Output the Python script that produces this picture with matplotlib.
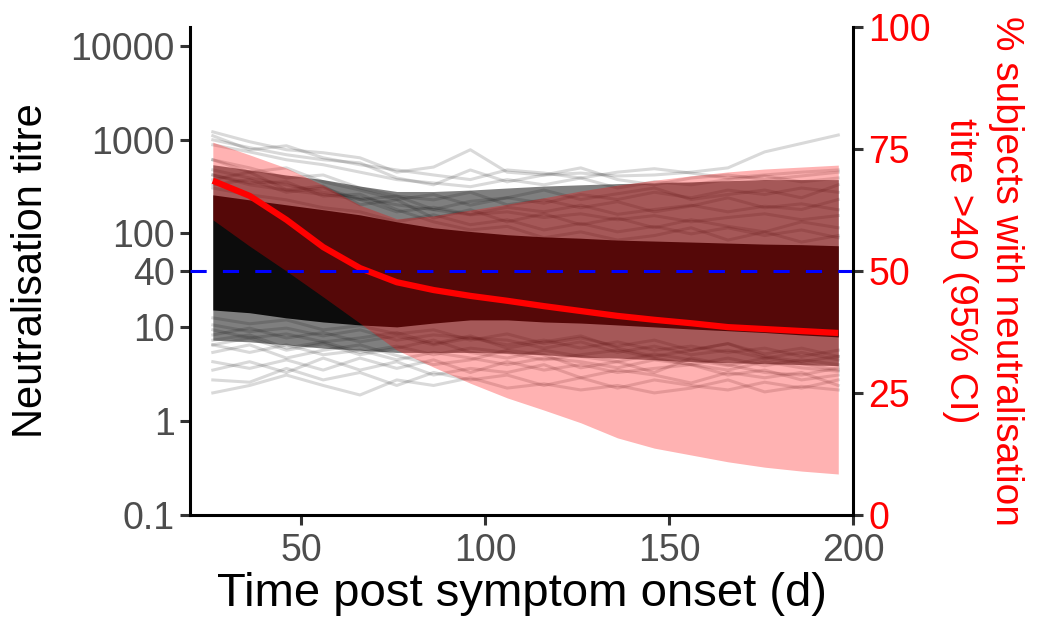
import numpy as np
import matplotlib
matplotlib.use("Agg")
import matplotlib.pyplot as plt

plt.rcParams["font.family"] = ["Liberation Sans", "DejaVu Sans"]

# sampling days (post symptom onset)
days = [26, 36, 46, 56, 66, 76, 86, 96, 106, 116, 126, 136, 146, 156, 166, 176, 186, 196]

# % subjects with titre > 40 (right axis), mean and 95% CI
pct_mean = [68.5, 65.4, 60.5, 54.9, 50.6, 47.7, 46.1, 44.9, 43.9, 42.8, 41.8, 40.8, 40.0, 39.3, 38.5, 38.1, 37.7, 37.3]
pct_upper = [76.4, 73.8, 71.1, 67.6, 63.5, 60.7, 61.3, 62.5, 63.7, 65.0, 66.4, 67.6, 68.6, 69.5, 70.3, 70.9, 71.3, 71.7]
pct_lower = [60.5, 55.1, 50.0, 44.7, 39.3, 33.8, 30.3, 27.0, 24.0, 21.5, 18.9, 15.8, 13.7, 12.3, 10.9, 9.8, 9.0, 8.4]

# envelopes of the simulated titre trajectories (middle / core)
mod_hi = [540, 475, 420, 375, 320, 280, 280, 290, 305, 320, 330, 340, 345, 355, 365, 375, 375, 375]
dense_hi = [258, 228, 202, 179, 158, 133, 115, 105, 97, 92, 89, 85, 83, 81, 79, 77, 76, 74]
dense_lo = [15.3, 14.3, 12.6, 11.4, 10.6, 10.1, 11.1, 12, 12, 11.4, 11.1, 10.6, 10.1, 9.6, 9.2, 8.8, 8.3, 7.9]
mod_lo = [7.3, 7.0, 6.5, 6.0, 5.7, 5.4, 5.4, 5.4, 5.3, 5.1, 4.8, 4.7, 4.5, 4.3, 4.2, 4.1, 4.0, 3.9]

# individual trajectories visible outside the dense mass
traj_high = [
    [1210, 950, 780, 725, 640, 450, 510, 780, 450, 420, 440, 410, 420, 450, 500, 740, 910, 1120],
    [1100, 780, 860, 640, 540, 475, 420, 375, 475, 440, 390, 450, 490, 440, 390, 420, 450, 475],
    [995, 820, 690, 610, 565, 390, 330, 475, 355, 420, 500, 375, 330, 390, 420, 375, 410, 450],
    [880, 740, 610, 540, 450, 375, 345, 315, 375, 330, 390, 305, 355, 330, 375, 410, 355, 390],
    [610, 450, 500, 355, 290, 230, 260, 200, 240, 210, 260, 230, 275, 240, 290, 260, 305, 275],
    [420, 330, 290, 260, 230, 170, 190, 160, 190, 170, 200, 160, 180, 200, 170, 195, 180, 230],
    [330, 375, 275, 305, 230, 250, 180, 220, 240, 290, 230, 265, 305, 230, 260, 290, 240, 330],
    [476, 390, 330, 275, 240, 202, 179, 158, 170, 148, 162, 140, 155, 133, 148, 162, 140, 155],
    [373, 450, 292, 320, 202, 228, 146, 179, 133, 162, 124, 146, 115, 140, 119, 104, 133, 115],
    [305, 258, 228, 188, 170, 133, 158, 124, 140, 109, 128, 104, 119, 99, 115, 95, 109, 90],
    [609, 500, 390, 420, 305, 250, 228, 275, 202, 228, 188, 218, 170, 196, 240, 188, 207, 179],
    [420, 345, 355, 250, 262, 179, 133, 109, 119, 90, 104, 85, 95, 115, 85, 104, 81, 95],
]
traj_low = [
    [6.5, 5.4, 6.5, 5.1, 5.7, 4.5, 5.4, 4.7, 4.0, 4.7, 4.3, 3.7, 4.5, 4.0, 3.5, 4.3, 3.7, 3.4],
    [7.3, 8.3, 6.0, 7.0, 5.4, 6.3, 5.1, 6.0, 5.4, 4.5, 5.1, 5.7, 4.7, 4.0, 4.7, 3.9, 4.5, 4.0],
    [5.4, 6.5, 4.7, 5.7, 6.5, 5.0, 4.0, 4.5, 5.7, 5.1, 3.7, 4.3, 3.3, 4.7, 4.0, 3.3, 3.1, 3.7],
    [2.0, 2.4, 3.1, 2.4, 1.9, 2.75, 2.4, 2.9, 2.25, 2.5, 2.15, 2.4, 2.0, 2.25, 2.75, 2.05, 2.35, 2.15],
    [2.75, 2.6, 3.65, 2.75, 3.3, 2.4, 3.3, 2.75, 3.1, 2.4, 2.9, 2.25, 2.75, 2.4, 2.15, 2.6, 2.25, 2.75],
    [3.5, 4.3, 3.3, 4.7, 3.5, 4.3, 3.1, 3.65, 3.3, 4.0, 2.9, 3.5, 3.1, 2.55, 3.3, 2.9, 3.3, 2.4],
    [4.3, 3.65, 4.5, 3.5, 4.7, 3.65, 4.5, 3.3, 4.3, 3.5, 4.0, 3.3, 3.65, 4.0, 3.1, 3.5, 2.75, 3.1],
    [10.6, 9.0, 9.8, 8.1, 9.4, 7.3, 8.3, 7.7, 6.5, 7.3, 6.0, 7.0, 5.7, 6.3, 5.4, 6.0, 4.9, 5.7],
    [8.3, 9.8, 7.7, 8.8, 7.0, 8.1, 6.5, 7.7, 7.3, 6.0, 7.0, 5.4, 6.3, 5.1, 5.7, 4.7, 5.4, 4.5],
    [12.6, 10.9, 12.0, 9.4, 10.4, 8.5, 9.4, 7.3, 8.5, 6.7, 7.7, 6.3, 7.3, 5.7, 6.7, 5.2, 6.0, 4.9],
    [6.5, 7.7, 5.7, 6.7, 5.1, 6.0, 7.3, 5.4, 4.7, 5.7, 4.9, 4.3, 5.2, 4.5, 3.9, 4.7, 4.1, 3.5],
    [9.4, 7.7, 8.5, 7.0, 7.7, 8.8, 6.7, 8.1, 6.0, 7.0, 8.1, 6.0, 4.9, 5.7, 6.7, 4.9, 4.3, 4.9],
]

threshold = 40
y_ticks = [0.1, 1, 10, 40, 100, 1000, 10000]
y_ticklabels = ["0.1", "1", "10", "40", "100", "1000", "10000"]
x_ticks = [50, 100, 150, 200]
pct_ticks = [0, 25, 50, 75, 100]

Y_MIN, Y_MAX = 0.1, 10 ** 4.2


def titre_to_pct(t):
    return (np.log10(t) - np.log10(Y_MIN)) / (np.log10(Y_MAX) - np.log10(Y_MIN)) * 100


W, H = 1038, 617
fig = plt.figure(figsize=(W / 100, H / 100), dpi=100)
ax = fig.add_axes([190 / W, 1 - 515 / H, (853 - 190) / W, (515 - 27) / H])

ax.fill_between(days, mod_lo, mod_hi, color="black", alpha=0.5, lw=0)
ax.fill_between(days, dense_lo, dense_hi, color="black", alpha=0.9, lw=0)
for tr in traj_high + traj_low:
    ax.plot(days, tr, color="black", alpha=0.15, lw=2.2)

ax.set_yscale("log")
ax.set_ylim(Y_MIN, Y_MAX)
ax.set_xlim(19.8, 200)
ax.set_yticks(y_ticks)
ax.set_yticklabels(y_ticklabels)
ax.minorticks_off()
ax.set_xticks(x_ticks)

ax2 = ax.twinx()
ax2.fill_between(days, pct_lower, pct_upper, color="red", alpha=0.3, lw=0)
ax2.plot(days, pct_mean, color="red", lw=4.5, solid_capstyle="butt")
ax2.axhline(titre_to_pct(threshold), color="blue", lw=2.2, dashes=(5.3, 5.3))
ax2.set_ylim(0, 100)
ax2.set_yticks(pct_ticks)

for a in (ax, ax2):
    a.spines["top"].set_visible(False)
    for s in a.spines.values():
        s.set_linewidth(2.2)
        s.set_color("black")
ax.spines["right"].set_visible(False)
ax2.spines["left"].set_visible(False)
ax2.spines["bottom"].set_visible(False)

ax.tick_params(axis="y", length=7, width=2.2, color="#333333", labelsize=27,
               labelcolor="#4d4d4d", pad=4)
ax.tick_params(axis="x", length=7, width=2.2, color="#333333", labelsize=27,
               labelcolor="#4d4d4d", pad=6)
ax2.tick_params(axis="y", length=7, width=2.2, color="#333333", labelsize=27,
                labelcolor="red", pad=4)

ax.set_xlabel("Time post symptom onset (d)", fontsize=34, labelpad=2)
ax.set_ylabel("Neutralisation titre", fontsize=30, labelpad=14)
ax2.set_ylabel("% subjects with neutralisation\ntitre >40 (95% CI)", fontsize=28,
               color="red", rotation=270, va="bottom", labelpad=8, linespacing=1.35)

fig.savefig("out.png", dpi=100)
